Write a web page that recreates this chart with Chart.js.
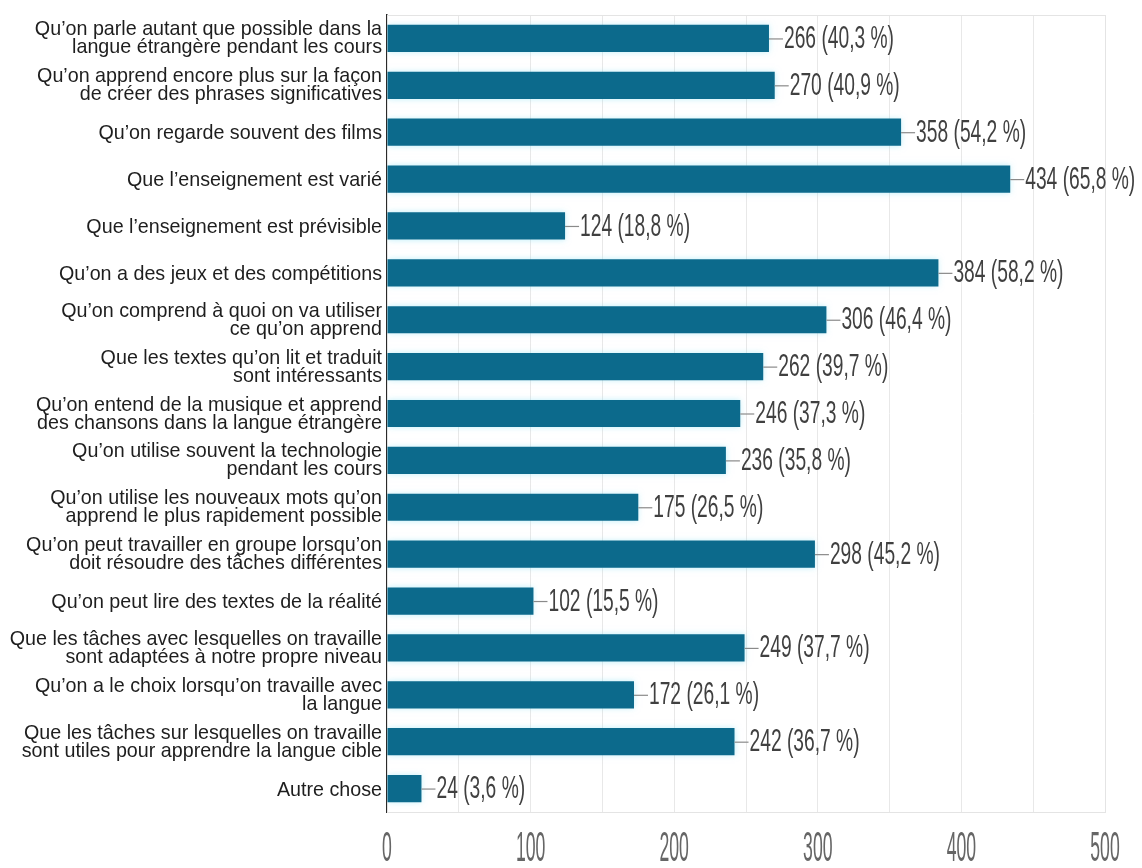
<!DOCTYPE html>
<html lang="fr">
<head>
<meta charset="utf-8">
<title>Réponses</title>
<script src="https://cdn.jsdelivr.net/npm/chart.js@4.4.1/dist/chart.umd.min.js"></script>
<style>
    html, body { margin: 0; padding: 0; background: #ffffff; }
    canvas { display: block; }
</style>
</head>
<body>
<canvas id="answersChart" width="1142" height="868"></canvas>
<script>
// Answer labels (already split on two lines where they wrap)
const answers = [
    ['Qu’on parle autant que possible dans la', 'langue étrangère pendant les cours'],
    ['Qu’on apprend encore plus sur la façon', 'de créer des phrases significatives'],
    'Qu’on regarde souvent des films',
    'Que l’enseignement est varié',
    'Que l’enseignement est prévisible',
    'Qu’on a des jeux et des compétitions',
    ['Qu’on comprend à quoi on va utiliser', 'ce qu’on apprend'],
    ['Que les textes qu’on lit et traduit', 'sont intéressants'],
    ['Qu’on entend de la musique et apprend', 'des chansons dans la langue étrangère'],
    ['Qu’on utilise souvent la technologie', 'pendant les cours'],
    ['Qu’on utilise les nouveaux mots qu’on', 'apprend le plus rapidement possible'],
    ['Qu’on peut travailler en groupe lorsqu’on', 'doit résoudre des tâches différentes'],
    'Qu’on peut lire des textes de la réalité',
    ['Que les tâches avec lesquelles on travaille', 'sont adaptées à notre propre niveau'],
    ['Qu’on a le choix lorsqu’on travaille avec', 'la langue'],
    ['Que les tâches sur lesquelles on travaille', 'sont utiles pour apprendre la langue cible'],
    'Autre chose'
];

const counts = [266, 270, 358, 434, 124, 384, 306, 262, 246, 236, 175, 298, 102, 249, 172, 242, 24];
const percents = ['40,3', '40,9', '54,2', '65,8', '18,8', '58,2', '46,4', '39,7', '37,3', '35,8', '26,5', '45,2', '15,5', '37,7', '26,1', '36,7', '3,6'];

const xTicks = [0, 100, 200, 300, 400, 500];

const FONT = "'Liberation Sans', Arial, sans-serif";

// Draw text squeezed horizontally (the narrow look of the labels)
function drawNarrow(ctx, text, x, y, size, squeeze, align, baseline, color) {
    ctx.save();
    ctx.translate(x, y);
    ctx.scale(squeeze, 1);
    ctx.font = size + 'px ' + FONT;
    ctx.fillStyle = color;
    ctx.textAlign = align;
    ctx.textBaseline = baseline;
    ctx.fillText(text, 0, 0);
    ctx.restore();
}

// Plot frame, drawn before the bars
const frame = {
    id: 'frame',
    beforeDatasetsDraw(chart) {
        const { ctx, chartArea: a } = chart;
        ctx.save();
        ctx.strokeStyle = '#e4e4e4';
        ctx.lineWidth = 1;
        ctx.strokeRect(a.left + 0.5, a.top + 0.5, a.right - a.left, a.bottom - a.top);
        ctx.restore();
    }
};

// Soft cyan glow around the bars
const barGlow = {
    id: 'barGlow',
    beforeDatasetsDraw(chart) {
        const ctx = chart.ctx;
        ctx.save();
        ctx.shadowColor = 'rgba(140, 225, 245, 0.55)';
        ctx.shadowBlur = 6;
    },
    afterDatasetsDraw(chart) {
        chart.ctx.restore();
    }
};

// Category labels, value labels with leader lines, and x tick labels
const annotations = {
    id: 'annotations',
    afterDraw(chart) {
        const { ctx, scales } = chart;
        const x = scales.x, y = scales.y;
        const labelRight = x.getPixelForValue(0) - 5;

        answers.forEach((lbl, i) => {
            const cy = y.getPixelForValue(i);
            if (Array.isArray(lbl)) {
                drawNarrow(ctx, lbl[0], labelRight, cy - 3, 21, 0.938, 'right', 'alphabetic', '#1e1e1e');
                drawNarrow(ctx, lbl[1], labelRight, cy + 15, 21, 0.938, 'right', 'alphabetic', '#1e1e1e');
            } else {
                drawNarrow(ctx, lbl, labelRight, cy + 7, 21, 0.938, 'right', 'alphabetic', '#1e1e1e');
            }
        });

        counts.forEach((v, i) => {
            const px = x.getPixelForValue(v);
            const py = y.getPixelForValue(i);
            ctx.save();
            ctx.strokeStyle = '#8a8a8a';
            ctx.lineWidth = 1.2;
            ctx.beginPath();
            ctx.moveTo(px, py + 0.5);
            ctx.lineTo(px + 14, py + 0.5);
            ctx.stroke();
            ctx.restore();
            drawNarrow(ctx, v + ' (' + percents[i] + ' %)', px + 15, py + 1, 31, 0.62, 'left', 'middle', '#404040');
        });

        xTicks.forEach(t => {
            drawNarrow(ctx, String(t), x.getPixelForValue(t), 861, 43, 0.41, 'center', 'alphabetic', '#666666');
        });
    }
};

new Chart(document.getElementById('answersChart'), {
    type: 'bar',
    data: {
        labels: answers,
        datasets: [{
            data: counts,
            backgroundColor: '#0c6a8c',
            borderWidth: 0,
            categoryPercentage: 1,
            barPercentage: 0.58
        }]
    },
    options: {
        indexAxis: 'y',
        responsive: false,
        animation: false,
        devicePixelRatio: 1,
        layout: { padding: { top: 15, right: 37, bottom: 0, left: 0 } },
        plugins: {
            legend: { display: false },
            tooltip: { enabled: false }
        },
        scales: {
            x: {
                min: 0,
                max: 500,
                ticks: { display: false, stepSize: 50 },
                grid: { color: '#e8e8e8', lineWidth: 1, drawTicks: false },
                border: { display: false },
                afterFit(scale) { scale.height = 56; }
            },
            y: {
                ticks: { display: false },
                grid: { display: false, drawTicks: false },
                border: { display: true, color: '#2a2a2a', width: 1.5 },
                afterFit(scale) { scale.width = 387; }
            }
        }
    },
    plugins: [frame, barGlow, annotations]
});
</script>
</body>
</html>
